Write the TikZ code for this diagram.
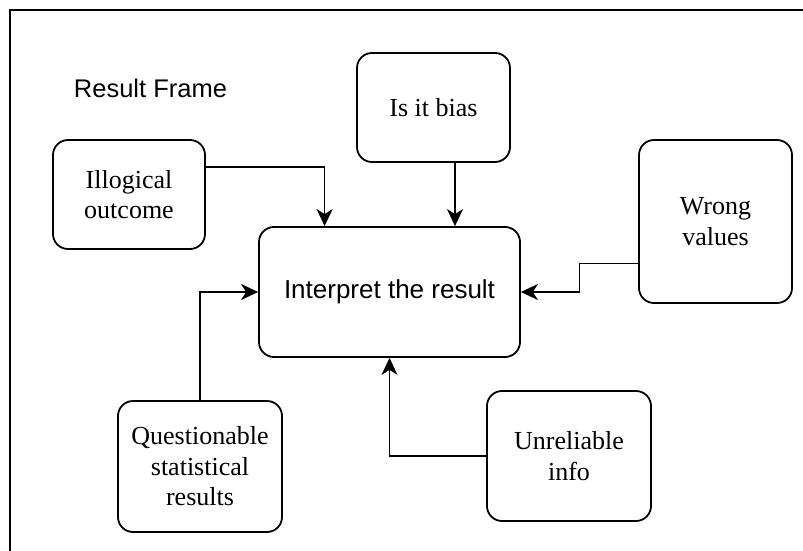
\documentclass[tikz,border=0pt]{standalone}
\usepackage{fontspec}
\setmainfont{Liberation Serif}
\newfontfamily\hvfont{Liberation Sans}
\usetikzlibrary{positioning}
\usetikzlibrary{arrows.meta}
\usetikzlibrary{calc}

\begin{document}
\begin{tikzpicture}[
    x=1pt, y=-1pt,
    block/.style={align=center, rectangle, rounded corners=15pt, draw=black, fill=white, line width=1.8pt, inner sep=0pt, font=\fontsize{26}{30.5}\selectfont},
    arr/.style={line width=1.8pt, -{Stealth[length=17pt, width=16pt, inset=5pt]}}
]
    \useasboundingbox (0,0) rectangle (803,551);

    % Frame
    \draw[line width=2pt] (10,551) -- (10,10) -- (803,10);
    \node[] (title) at (150.5,88) {\hvfont\fontsize{25.5}{30}\selectfont Result Frame};

    % Boxes
    \node[block, minimum width=261pt, minimum height=130pt] (interp) at (389.5,292) {\hvfont Interpret the result};
    \node[block, minimum width=152pt, minimum height=109pt] (ill) at (129,194.5) {Illogical\\outcome};
    \node[block, minimum width=153pt, minimum height=109pt] (bias) at (433.5,107.5) {Is it bias};
    \node[block, minimum width=153pt, minimum height=163pt] (wrong) at (715.5,221.5) {Wrong\\values};
    \node[block, minimum width=164pt, minimum height=131pt] (quest) at (200,466.5) {Questionable\\statistical\\results};
    \node[block, minimum width=164pt, minimum height=130pt] (unrel) at (569,456) {Unreliable\\info};

    % Connections
    \draw[arr] ($(ill.north east)!0.25!(ill.south east)$) -| ($(interp.north west)!0.253!(interp.north east)$);
    \coordinate (B1) at ($(bias.south)+(21.5,0)$);
    \draw[arr] (B1) -- (B1 |- interp.north);
    \coordinate (W1) at ($(wrong.north west)!0.755!(wrong.south west)$);
    \draw[arr] (W1) -| ($(W1)!0.5!(interp.east)$) |- (interp.east);
    \draw[arr] (quest.north) |- (interp.west);
    \draw[arr] (unrel.west) -| (interp.south);
\end{tikzpicture}
\end{document}
